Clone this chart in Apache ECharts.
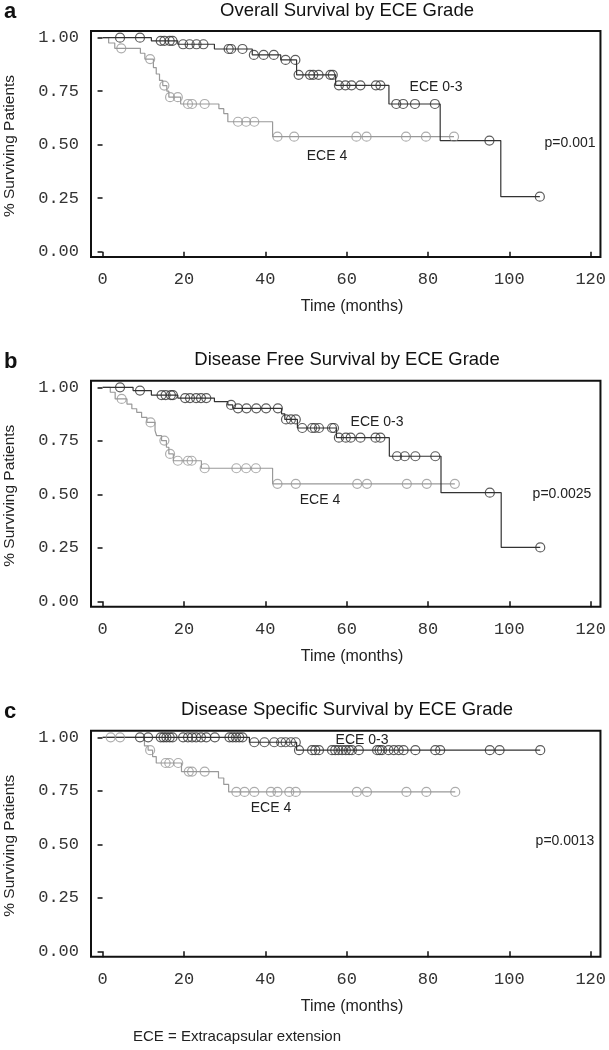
<!DOCTYPE html>
<html>
<head>
<meta charset="utf-8">
<script src="https://cdn.jsdelivr.net/npm/echarts@6/dist/echarts.min.js"></script>
<style>
  html, body { margin: 0; padding: 0; background: #fff; }
  #main { width: 609px; height: 1050px; }
</style>
</head>
<body>
<div id="main"></div>
<script>
// Kaplan-Meier curves: event times (months) + survival after each event,
// and the censored times (open circles)
var xTicks = [0, 20, 40, 60, 80, 100, 120];
var yTicks = [0, 0.25, 0.5, 0.75, 1];

// a - overall survival
var osLowEventT = [12.0, 18.5, 27.5, 36.8, 43.8, 47.7, 57.3, 70.4, 83.0, 97.9];
var osLowEventS = [0.985, 0.969, 0.947, 0.919, 0.896, 0.826, 0.777, 0.690, 0.519, 0.257];
var osLowCensor = [4.3, 9.2, 14.3, 15.2, 16.5, 17.2, 19.8, 21.4, 23.1, 24.8, 31.0, 31.6, 34.4, 37.2, 39.6, 42.1,
  45.0, 47.4, 48.2, 51.0, 51.8, 53.1, 56.0, 56.6, 58.1, 59.7, 61.2, 63.4, 67.2, 68.3, 72.2, 73.9, 76.8, 81.7, 95.1, 107.5];
var osHighEventT = [1.5, 3.0, 9.3, 10.4, 12.5, 13.2, 14.0, 14.8, 15.8, 16.3, 19.2, 28.6, 29.8, 30.8, 41.8];
var osHighEventS = [0.975, 0.950, 0.927, 0.900, 0.860, 0.830, 0.800, 0.776, 0.750, 0.722, 0.690, 0.668, 0.645, 0.607, 0.537];
var osHighCensor = [4.6, 11.7, 15.2, 16.6, 18.5, 21.0, 22.0, 25.1, 33.3, 35.3, 37.3, 43.0, 47.1, 62.4, 64.9, 74.6, 79.5, 86.4];

// b - disease free survival
var dfsLowEventT = [7.5, 12.0, 18.5, 27.5, 30.8, 32.0, 44.0, 44.8, 47.9, 57.5, 70.5, 83.2, 98.0];
var dfsLowEventS = [0.985, 0.964, 0.950, 0.933, 0.918, 0.902, 0.876, 0.850, 0.810, 0.765, 0.678, 0.508, 0.252];
var dfsLowCensor = [4.3, 9.2, 14.5, 15.5, 16.8, 17.3, 20.3, 21.5, 23.0, 24.2, 25.5, 31.6, 33.3, 35.4, 37.8, 40.2, 43.1,
  45.1, 46.3, 47.5, 49.1, 51.5, 52.2, 53.2, 56.4, 56.9, 58.1, 59.8, 61.0, 63.4, 67.1, 68.3, 72.4, 74.3, 76.9, 81.8, 95.2, 107.6];
var dfsHighEventT = [1.9, 3.1, 6.0, 7.2, 8.4, 9.6, 10.9, 12.9, 13.3, 14.5, 15.7, 16.3, 17.4, 24.3, 41.8];
var dfsHighEventS = [0.977, 0.946, 0.922, 0.900, 0.883, 0.860, 0.836, 0.798, 0.774, 0.751, 0.720, 0.689, 0.657, 0.622, 0.549];
var dfsHighCensor = [4.7, 11.8, 15.2, 16.6, 18.5, 21.0, 21.9, 25.1, 32.9, 35.3, 37.7, 43.0, 47.5, 62.6, 65.0, 74.8, 79.7, 86.6];

// c - disease specific survival
var dssLowEventT = [36.1, 47.7];
var dssLowEventS = [0.977, 0.940];
var dssLowCensor = [9.2, 11.2, 14.3, 15.0, 15.7, 16.5, 17.2, 19.8, 21.0, 22.0, 23.0, 24.2, 25.5, 27.6, 31.2, 32.0, 32.8,
  33.6, 34.4, 37.3, 39.8, 42.2, 43.9, 45.0, 46.3, 47.5, 48.3, 51.5, 52.3, 53.2, 56.4, 57.2, 58.0, 58.9, 59.8, 60.6, 61.3,
  63.0, 67.5, 68.1, 68.7, 70.3, 71.6, 72.8, 74.0, 76.9, 81.8, 83.0, 95.2, 97.6, 107.6];
var dssHighEventT = [10.3, 11.2, 12.3, 13.2, 19.4, 28.5, 29.8, 31.0];
var dssHighEventS = [0.960, 0.940, 0.910, 0.880, 0.840, 0.810, 0.780, 0.745];
var dssHighCensor = [2.0, 4.3, 11.7, 15.5, 16.4, 18.6, 21.2, 22.0, 25.1, 32.9, 34.9, 37.3, 41.4, 43.0, 45.9, 47.5,
  62.5, 65.0, 74.7, 79.6, 86.7];

var panelTitles = ['Overall Survival by ECE Grade', 'Disease Free Survival by ECE Grade', 'Disease Specific Survival by ECE Grade'];
var panelLetters = ['a', 'b', 'c'];
var pValues = ['p=0.001', 'p=0.0025', 'p=0.0013'];

var SANS = '"Liberation Sans", Arial, sans-serif';
var MONO = '"Liberation Mono", "Courier New", monospace';
var DARK = '#333';
var LIGHT = '#999';

var panels = [
  { low: [osLowEventT, osLowEventS, osLowCensor], high: [osHighEventT, osHighEventS, osHighCensor], dy: 0,
    lowLbl: [436, 87], highLbl: [327, 156], pLbl: [570, 143] },
  { low: [dfsLowEventT, dfsLowEventS, dfsLowCensor], high: [dfsHighEventT, dfsHighEventS, dfsHighCensor], dy: 349.7,
    lowLbl: [377, 72], highLbl: [320, 150], pLbl: [562, 144] },
  { low: [dssLowEventT, dssLowEventS, dssLowCensor], high: [dssHighEventT, dssHighEventS, dssHighCensor], dy: 699.7,
    lowLbl: [362, 40], highLbl: [271, 108], pLbl: [565, 141] }
];

function survAt(evT, evS, t) {
  var s = 1;
  for (var i = 0; i < evT.length; i++) {
    if (evT[i] <= t) s = evS[i];
  }
  return s;
}

function curve(g) {
  var evT = g[0], evS = g[1], cens = g[2];
  var pts = [[0, 1]];
  for (var i = 0; i < evT.length; i++) pts.push([evT[i], evS[i]]);
  var end = Math.max.apply(null, cens);
  pts.push([end, survAt(evT, evS, end)]);
  return pts;
}

function marks(g) {
  return g[2].map(function (t) { return [t, survAt(g[0], g[1], t)]; });
}

var grids = [], xAxes = [], yAxes = [], series = [], graphics = [], titles = [];

panels.forEach(function (p, i) {
  grids.push({ left: 91, top: 31 + p.dy, width: 512, height: 226, show: true,
    borderColor: '#111', borderWidth: 2, backgroundColor: 'transparent' });
  xAxes.push({
    gridIndex: i, type: 'value', min: -2.84, max: 122.4,
    splitLine: { show: false }, axisLine: { show: false },
    axisTick: { show: true, length: 6, customValues: xTicks, lineStyle: { color: '#111', width: 1.5 } },
    axisLabel: { customValues: xTicks, margin: 14, fontFamily: MONO, fontSize: 17, color: '#333' }
  });
  yAxes.push({
    gridIndex: i, type: 'value', min: -0.025, max: 1.031,
    splitLine: { show: false }, axisLine: { show: false },
    axisTick: { show: true, length: 5, customValues: yTicks, lineStyle: { color: '#111', width: 1.5 } },
    axisLabel: { customValues: yTicks, margin: 12, fontFamily: MONO, fontSize: 17, color: '#333',
      formatter: function (v) { return v.toFixed(2); } }
  });

  [['high', LIGHT, 1], ['low', DARK, 2]].forEach(function (c) {
    var g = p[c[0]];
    series.push({
      type: 'line', xAxisIndex: i, yAxisIndex: i, step: 'end', showSymbol: false, z: c[2],
      data: curve(g), lineStyle: { color: c[1], width: 1.2 }, silent: true
    });
    series.push({
      type: 'scatter', xAxisIndex: i, yAxisIndex: i, symbol: 'circle', symbolSize: 9, z: c[2] + 2,
      data: marks(g), itemStyle: { color: 'rgba(0,0,0,0)', borderColor: c[1], borderWidth: 1.2 }, silent: true
    });
  });

  titles.push({ text: panelTitles[i], left: 347, top: 1 + p.dy, padding: 0, textAlign: 'center',
    textStyle: { fontFamily: SANS, fontSize: 18.5, fontWeight: 'normal', color: '#111' } });

  graphics.push(
    { type: 'text', left: 4, top: 1 + p.dy,
      style: { text: panelLetters[i], font: 'bold 22px ' + SANS, fill: '#111' } },
    { type: 'text', x: 10, y: 146 + p.dy, rotation: Math.PI / 2,
      style: { text: '% Surviving Patients', font: '15.5px ' + SANS, fill: '#222', align: 'center', verticalAlign: 'middle' } },
    { type: 'text', x: 352, y: 307 + p.dy,
      style: { text: 'Time (months)', font: '16px ' + SANS, fill: '#222', align: 'center', verticalAlign: 'middle' } },
    { type: 'text', x: p.lowLbl[0], y: p.lowLbl[1] + p.dy,
      style: { text: 'ECE 0-3', font: '14px ' + SANS, fill: '#222', align: 'center', verticalAlign: 'middle' } },
    { type: 'text', x: p.highLbl[0], y: p.highLbl[1] + p.dy,
      style: { text: 'ECE 4', font: '14px ' + SANS, fill: '#222', align: 'center', verticalAlign: 'middle' } },
    { type: 'text', x: p.pLbl[0], y: p.pLbl[1] + p.dy,
      style: { text: pValues[i], font: '14px ' + SANS, fill: '#222', align: 'center', verticalAlign: 'middle' } }
  );
});

graphics.push({ type: 'text', left: 133, top: 1029,
  style: { text: 'ECE = Extracapsular extension', font: '15px ' + SANS, fill: '#222' } });

var chart = echarts.init(document.getElementById('main'), null, { renderer: 'canvas' });
chart.setOption({
  animation: false,
  backgroundColor: '#fff',
  title: titles,
  grid: grids,
  xAxis: xAxes,
  yAxis: yAxes,
  series: series,
  graphic: graphics
});
</script>
</body>
</html>
